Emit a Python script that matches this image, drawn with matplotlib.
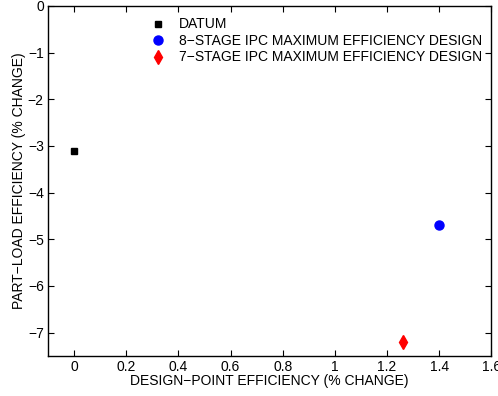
import matplotlib
matplotlib.use("Agg")
import matplotlib.pyplot as plt

plt.rcParams["font.family"] = ["Liberation Sans", "DejaVu Sans"]
plt.rcParams["font.size"] = 10

# design-point vs part-load efficiency, % change
labels = ["DATUM", "8\u2212STAGE IPC MAXIMUM EFFICIENCY DESIGN", "7\u2212STAGE IPC MAXIMUM EFFICIENCY DESIGN"]
design_point = [0.0, 1.40, 1.26]
part_load = [-3.1, -4.7, -7.2]
markers = ["s", "o", "d"]
colors = ["black", "blue", "red"]
sizes = [5, 6.5, 7.5]

xticks = [0, 0.2, 0.4, 0.6, 0.8, 1, 1.2, 1.4, 1.6]
yticks = [0, -1, -2, -3, -4, -5, -6, -7]

fig = plt.figure(figsize=(4.98, 3.96), dpi=100)
ax = fig.add_axes([0.0964, 0.101, 0.890, 0.884])

for x, y, m, c, s, lab in zip(design_point, part_load, markers, colors, sizes, labels):
    ax.plot([x], [y], linestyle="none", marker=m, color=c, markersize=s, label=lab)

ax.set_xlim(-0.1, 1.6)
ax.set_ylim(-7.5, 0)
ax.set_xticks(xticks)
ax.set_xticklabels([f"{t:g}" for t in xticks])
ax.set_yticks(yticks)
ax.set_yticklabels([f"{t:g}".replace("-", "\u2212") for t in yticks])
ax.tick_params(direction="in", top=True, right=True, length=4, width=0.8, labelsize=10, pad=3)
for sp in ax.spines.values():
    sp.set_linewidth(1.0)

ax.set_xlabel("DESIGN\u2212POINT EFFICIENCY (% CHANGE)", fontsize=10, labelpad=0)
ax.set_ylabel("PART\u2212LOAD EFFICIENCY (% CHANGE)", fontsize=10, labelpad=1)

ax.legend(loc="upper left", bbox_to_anchor=(0.21, 0.995), frameon=False,
          fontsize=10, handlelength=1.0, handletextpad=1.0, labelspacing=0.18,
          borderpad=0.2, numpoints=1)

fig.savefig("out.png", dpi=100)
